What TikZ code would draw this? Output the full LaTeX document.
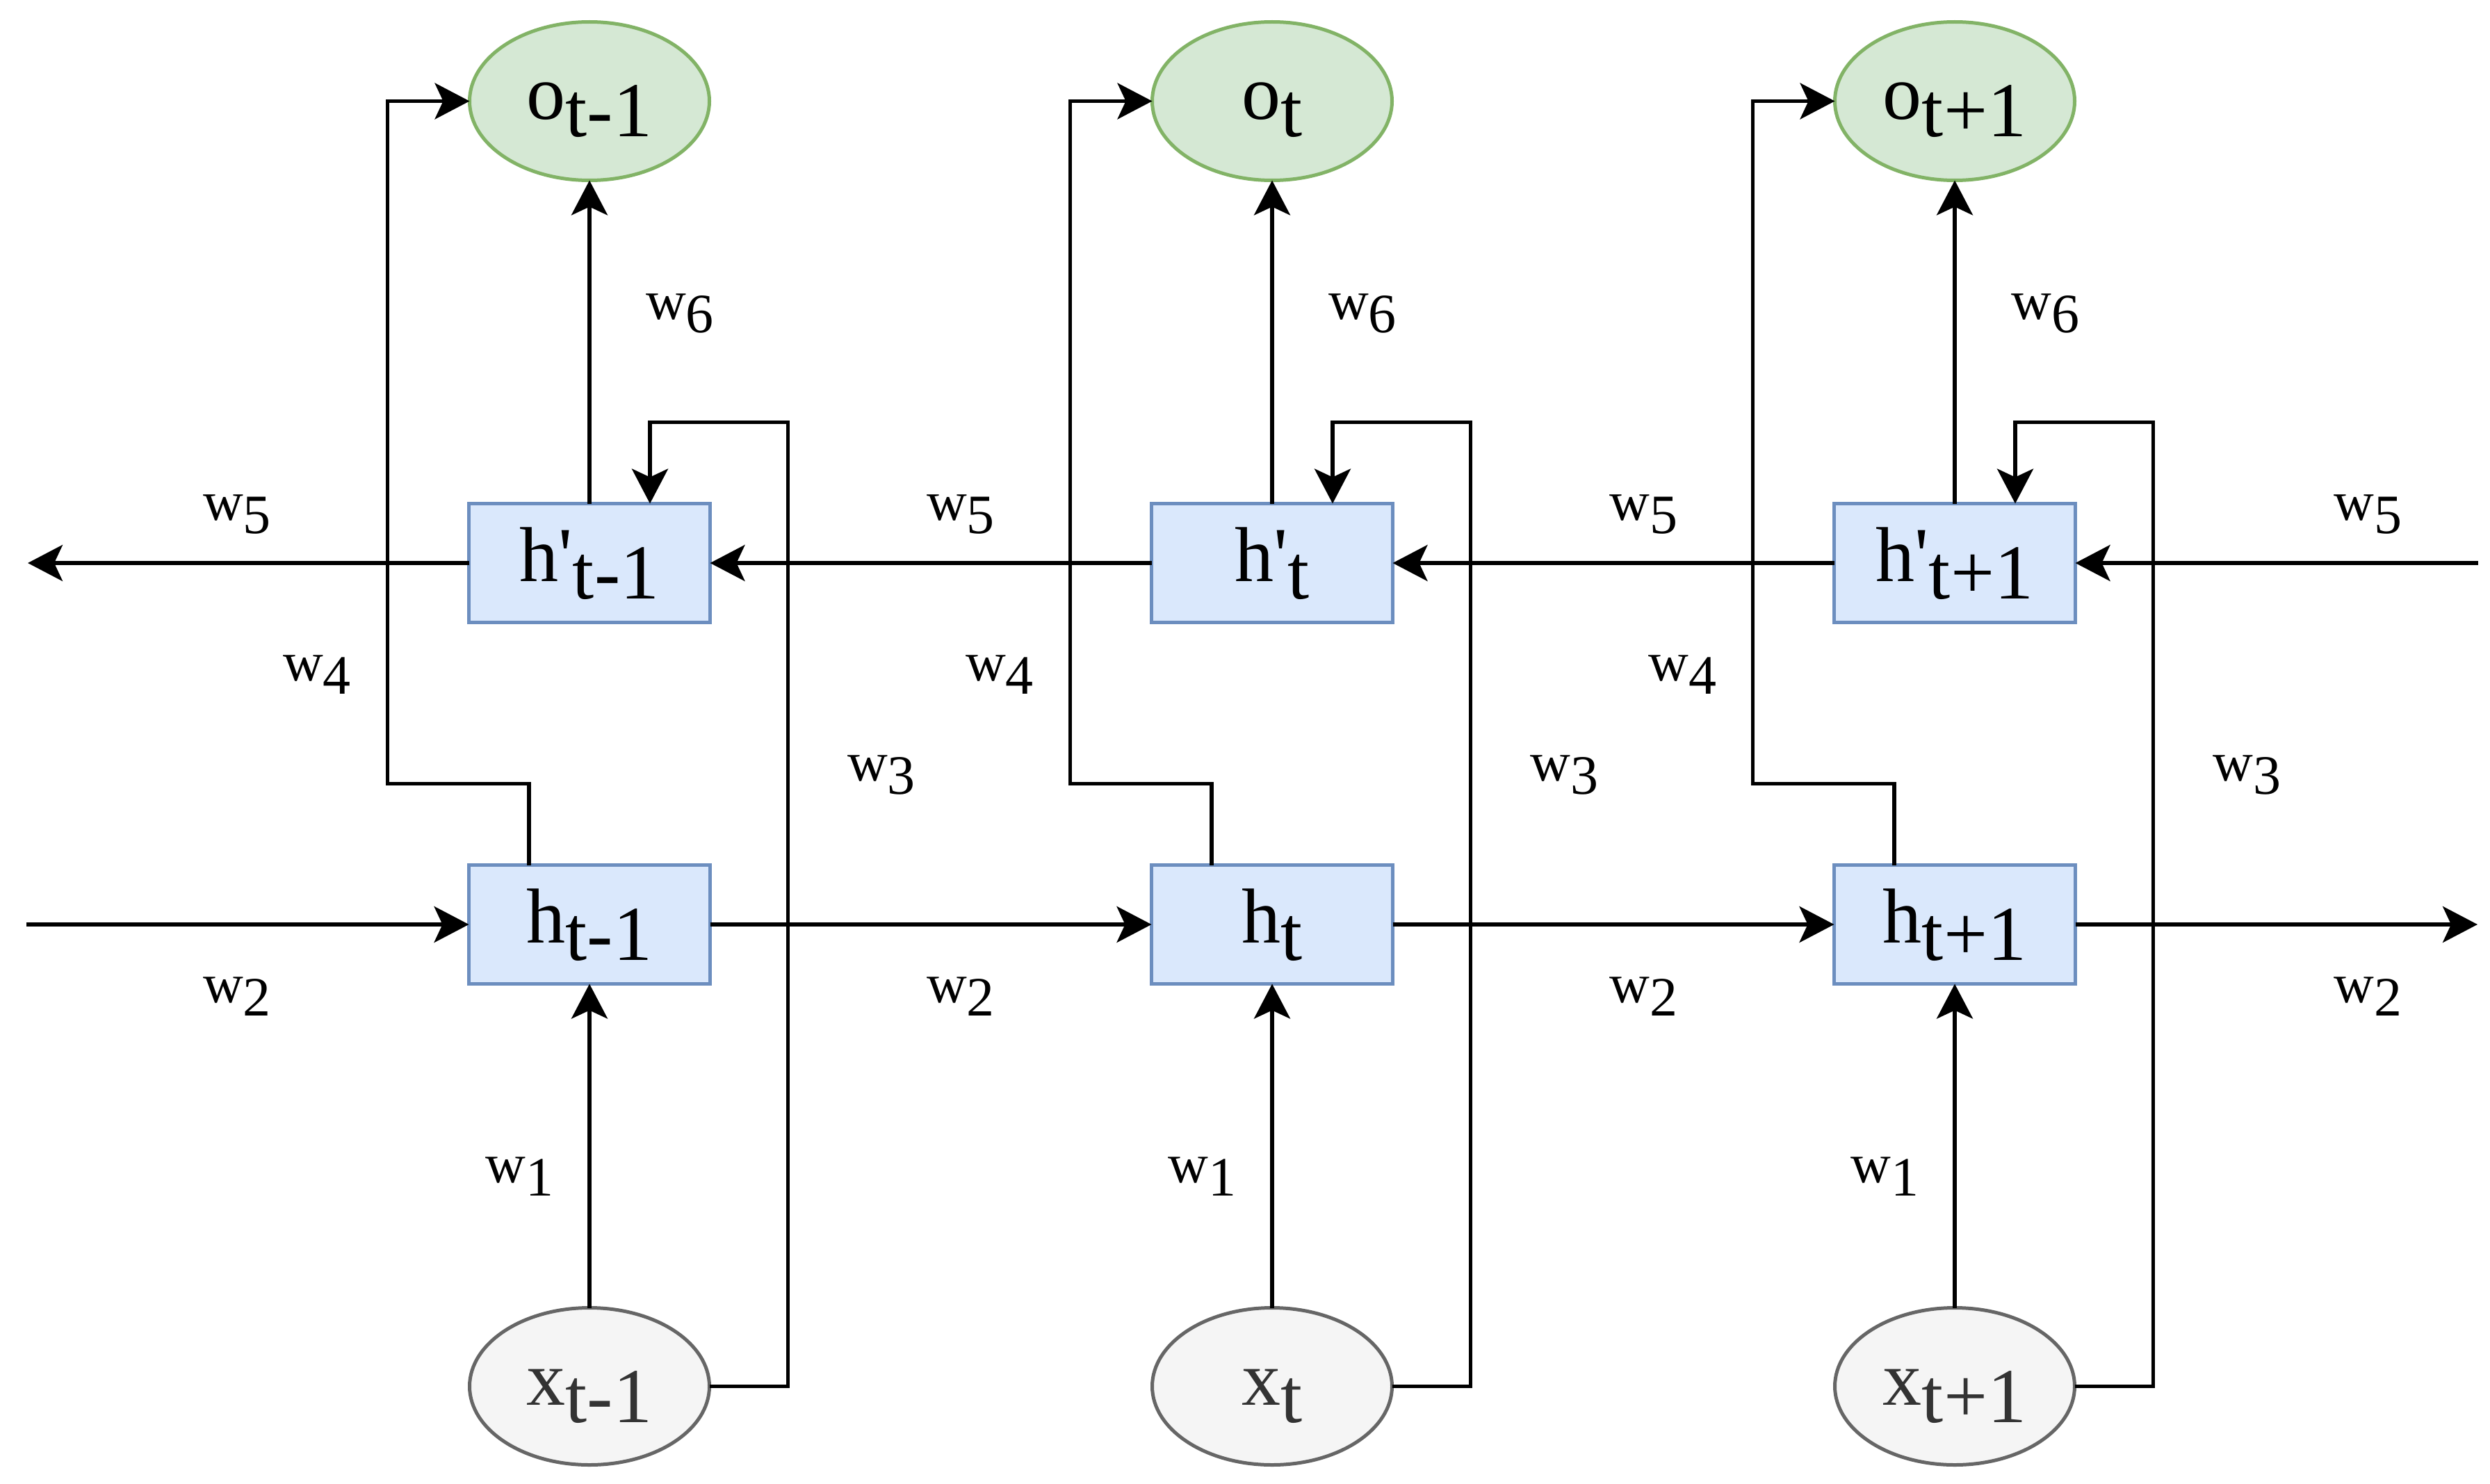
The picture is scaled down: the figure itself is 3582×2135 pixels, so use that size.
\documentclass[tikz,border=0pt]{standalone}
\usepackage{fontspec}
\setmainfont{Liberation Serif}
\usetikzlibrary{shapes.geometric,arrows.meta,calc}
\definecolor{boxfill}{HTML}{DAE8FC}
\definecolor{boxline}{HTML}{6C8EBF}
\definecolor{ofill}{HTML}{D5E8D4}
\definecolor{oline}{HTML}{82B366}
\definecolor{xfill}{HTML}{F5F5F5}
\definecolor{xline}{HTML}{666666}
\definecolor{xtext}{HTML}{333333}
\newcommand{\nsb}[1]{\raisebox{-25pt}{#1}}
\newcommand{\lsb}[1]{\raisebox{-19pt}{#1}}
\begin{document}
\begin{tikzpicture}[x=1pt,y=-1pt,
  nodetext/.style={font=\fontsize{112pt}{130pt}\selectfont, text height=77pt, text depth=24pt, inner sep=0pt, outer sep=0pt},
  cell/.style={nodetext, rectangle, draw=boxline, fill=boxfill, line width=5pt, minimum width=347pt, minimum height=171pt},
  outnode/.style={nodetext, ellipse, draw=oline, fill=ofill, line width=5pt, minimum width=345pt, minimum height=228pt},
  innode/.style={nodetext, ellipse, draw=xline, fill=xfill, text=xtext, line width=5pt, minimum width=345pt, minimum height=226pt},
  conn/.style={line width=5.5pt, -{Stealth[length=50pt,width=52pt,inset=12pt]}},
  lbl/.style={font=\fontsize{80pt}{92pt}\selectfont, inner sep=0pt, anchor=base west}]
\useasboundingbox (0,0) rectangle (3582,2135);
\fill[white] (0,0) rectangle (3582,2135);

% column t-1
\node[outnode] (o1) at (848,145.5) {o\nsb{t-1}};
\node[cell] (hp1) at (848,810) {h\textquotesingle\nsb{t-1}};
\node[cell] (h1) at (848,1330) {h\nsb{t-1}};
\node[innode] (x1) at (848,1994.5) {x\nsb{t-1}};
% column t
\node[outnode] (o2) at (1830,145.5) {o\nsb{t}};
\node[cell] (hp2) at (1830,810) {h\textquotesingle\nsb{t}};
\node[cell] (h2) at (1830,1330) {h\nsb{t}};
\node[innode] (x2) at (1830,1994.5) {x\nsb{t}};
% column t+1
\node[outnode] (o3) at (2812,145.5) {o\nsb{t+1}};
\node[cell] (hp3) at (2812,810) {h\textquotesingle\nsb{t+1}};
\node[cell] (h3) at (2812,1330) {h\nsb{t+1}};
\node[innode] (x3) at (2812,1994.5) {x\nsb{t+1}};

\coordinate (lin) at (38,1330);
\coordinate (rout) at (3564,1330);
\coordinate (rin) at (3565,810);
\coordinate (lout) at (40,810);

% forward chain
\draw[conn] (lin) -- (h1.west);
\draw[conn] (h1.east) -- (h2.west);
\draw[conn] (h2.east) -- (h3.west);
\draw[conn] (h3.east) -- (rout);
% backward chain
\draw[conn] (rin) -- (hp3.east);
\draw[conn] (hp3.west) -- (hp2.east);
\draw[conn] (hp2.west) -- (hp1.east);
\draw[conn] (hp1.west) -- (lout);

\foreach \i in {1,2,3}{
  \draw[conn] (x\i.north) -- (h\i.south);
  \draw[conn] (hp\i.north) -- (o\i.south);
  \draw[conn] ([xshift=-87pt]h\i.north) -- ++(0,-117) -- ++(-203.5,0) |- (o\i.west);
  \draw[conn] (x\i.east) -| ++(113,-1387) -| ([xshift=87pt]hp\i.north);
}

% labels
\foreach \d in {0,982,1964}{
  \node[lbl] at (929+\d,459) {w\lsb{6}};
  \node[lbl] at (407+\d,979) {w\lsb{4}};
  \node[lbl] at (1219+\d,1123) {w\lsb{3}};
  \node[lbl] at (698.5+\d,1701) {w\lsb{1}};
}
\foreach \p in {292,1333,2315,3357}{
  \node[lbl] at (\p,748) {w\lsb{5}};
  \node[lbl] at (\p,1442) {w\lsb{2}};
}
\end{tikzpicture}
\end{document}
